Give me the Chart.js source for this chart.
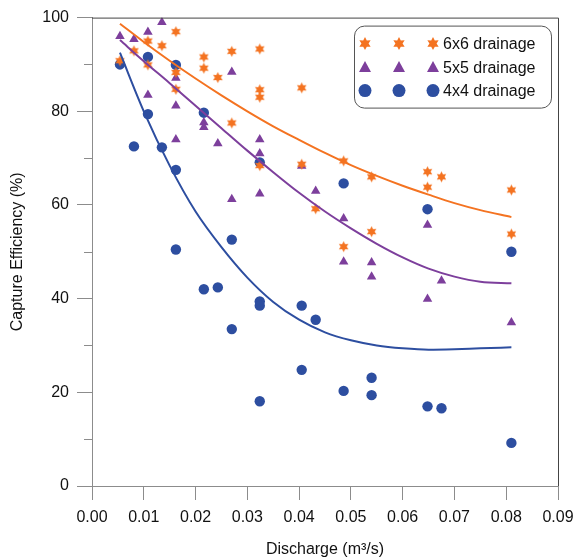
<!DOCTYPE html>
<html>
<head>
<meta charset="utf-8">
<script src="https://cdn.jsdelivr.net/npm/chart.js@4.4.1/dist/chart.umd.min.js"></script>
<style>
  html, body { margin: 0; padding: 0; background: #fff; }
  #wrap { width: 575px; height: 559px; }
</style>
</head>
<body>
<div id="wrap"><canvas id="chart" width="575" height="559"></canvas></div>
<script>
// discharge (m3/s) and capture efficiency (%) per grate layout
const q6 = [0.0054, 0.0081, 0.0108, 0.0108, 0.0135, 0.0162, 0.0162, 0.0162, 0.0216, 0.0216, 0.0243, 0.027, 0.027, 0.0324, 0.0324, 0.0324, 0.0324, 0.0405, 0.0405, 0.0432, 0.0486, 0.0486, 0.054, 0.054, 0.0648, 0.0648, 0.0675, 0.081, 0.081];
const e6 = [90.8, 92.9, 95.0, 89.9, 94.0, 97.0, 88.3, 84.7, 91.6, 89.2, 87.2, 92.8, 77.5, 93.3, 84.6, 83.0, 68.4, 85.0, 68.7, 59.2, 69.4, 51.1, 66.0, 54.3, 67.1, 63.8, 66.0, 63.2, 53.8];

const q5 = [0.0054, 0.0081, 0.0108, 0.0108, 0.0135, 0.0162, 0.0162, 0.0162, 0.0216, 0.0216, 0.0243, 0.027, 0.027, 0.0324, 0.0324, 0.0324, 0.0405, 0.0432, 0.0486, 0.0486, 0.054, 0.054, 0.0648, 0.0648, 0.0675, 0.081];
const e5 = [96.0, 95.4, 96.9, 83.5, 99.0, 87.1, 81.2, 74.0, 77.6, 76.6, 73.1, 88.4, 61.2, 74.0, 71.0, 62.4, 68.3, 63.0, 57.1, 47.9, 47.7, 44.7, 55.7, 39.9, 43.8, 34.9];

const q4 = [0.0054, 0.0081, 0.0108, 0.0108, 0.0135, 0.0162, 0.0162, 0.0162, 0.0216, 0.0216, 0.0243, 0.027, 0.027, 0.0324, 0.0324, 0.0324, 0.0324, 0.0405, 0.0405, 0.0432, 0.0486, 0.0486, 0.054, 0.054, 0.0648, 0.0648, 0.0675, 0.081, 0.081];
const e4 = [90.0, 72.5, 91.6, 79.4, 72.3, 89.9, 67.5, 50.5, 79.7, 42.0, 42.4, 52.6, 33.5, 69.1, 39.4, 38.5, 18.1, 38.5, 24.8, 35.5, 64.6, 20.3, 23.1, 19.4, 59.1, 17.0, 16.6, 50.0, 9.2];

// trend lines
const fitQ = [0.0054, 0.01, 0.015, 0.02, 0.025, 0.03, 0.035, 0.04, 0.045, 0.05, 0.055, 0.06, 0.065, 0.07, 0.075, 0.081];
const fit6 = [98.7, 94.8, 90.8, 87.0, 83.4, 80.0, 76.8, 73.9, 71.1, 68.5, 66.2, 64.1, 62.2, 60.4, 58.9, 57.4];
const fit5 = [95.2, 90.7, 86.0, 81.2, 76.4, 71.6, 67.0, 62.6, 58.6, 55.0, 51.7, 48.8, 46.4, 44.7, 43.6, 43.3];
const fit4 = [92.5, 80.0, 68.4, 58.6, 51.0, 44.5, 39.3, 35.5, 32.8, 31.1, 30.0, 29.4, 29.1, 29.2, 29.4, 29.6];

const seriesNames = ['6x6 drainage', '5x5 drainage', '4x4 drainage'];

const ORANGE = '#f47321';
const PURPLE = '#7d3f9c';
const BLUE = '#2d4ea0';

function pts(xs, ys) {
    return xs.map((x, i) => ({ x: x, y: ys[i] }));
}

// filled six pointed star used as point style
function starPath(ctx, cx, cy, r) {
    ctx.beginPath();
    for (let i = 0; i < 12; i++) {
        const rad = i % 2 === 0 ? r : r * 0.55;
        const a = -Math.PI / 2 + i * Math.PI / 6;
        const px = cx + rad * Math.cos(a);
        const py = cy + rad * Math.sin(a);
        if (i === 0) ctx.moveTo(px, py); else ctx.lineTo(px, py);
    }
    ctx.closePath();
}

function makeStar(color, r) {
    const c = document.createElement('canvas');
    c.width = c.height = Math.ceil(r * 2 + 2);
    const g = c.getContext('2d');
    g.fillStyle = color;
    starPath(g, c.width / 2, c.height / 2, r);
    g.fill();
    return c;
}

const starImg = makeStar(ORANGE, 5.5);

function drawMarker(ctx, kind, x, y) {
    if (kind === 'star') {
        ctx.fillStyle = ORANGE;
        starPath(ctx, x, y, 6.5);
        ctx.fill();
    } else if (kind === 'triangle') {
        ctx.fillStyle = PURPLE;
        ctx.beginPath();
        ctx.moveTo(x, y - 6);
        ctx.lineTo(x + 6, y + 5);
        ctx.lineTo(x - 6, y + 5);
        ctx.closePath();
        ctx.fill();
    } else {
        ctx.fillStyle = BLUE;
        ctx.beginPath();
        ctx.arc(x, y, 6.5, 0, Math.PI * 2);
        ctx.fill();
    }
}

// frame, minor ticks and the three-marker legend
const extras = {
    id: 'extras',
    afterDraw(chart) {
        const ctx = chart.ctx;
        const a = chart.chartArea;
        const yScale = chart.scales.y;
        ctx.save();

        ctx.strokeStyle = '#444';
        ctx.lineWidth = 1;
        ctx.beginPath();
        ctx.moveTo(a.left, a.top + 0.5);
        ctx.lineTo(a.right + 0.5, a.top + 0.5);
        ctx.lineTo(a.right + 0.5, a.bottom);
        ctx.stroke();

        ctx.strokeStyle = '#8c8c8c';
        ctx.beginPath();
        [10, 30, 50, 70, 90].forEach(v => {
            const py = Math.round(yScale.getPixelForValue(v)) + 0.5;
            ctx.moveTo(a.left - 8, py);
            ctx.lineTo(a.left, py);
        });
        ctx.stroke();

        const boxR = a.right - 7, boxT = a.top + 8;
        const boxL = boxR - 197, boxB = boxT + 82;
        ctx.fillStyle = '#fff';
        ctx.strokeStyle = '#555';
        ctx.beginPath();
        ctx.roundRect(boxL + 0.5, boxT + 0.5, boxR - boxL, boxB - boxT, 10);
        ctx.fill();
        ctx.stroke();

        const kinds = ['star', 'triangle', 'circle'];
        ctx.font = '16px "Liberation Sans", Arial, sans-serif';
        ctx.textBaseline = 'middle';
        kinds.forEach((k, i) => {
            const ry = boxT + 18 + i * 23.5;
            [11, 45, 79].forEach(dx => drawMarker(ctx, k, boxL + dx, ry));
            ctx.fillStyle = '#111';
            ctx.fillText(seriesNames[i], boxL + 89, ry + 1);
        });
        ctx.restore();
    }
};

const lineStyle = { type: 'line', showLine: true, pointRadius: 0, borderWidth: 2, fill: false, cubicInterpolationMode: 'monotone' };

new Chart(document.getElementById('chart').getContext('2d'), {
    type: 'scatter',
    data: {
        datasets: [
            Object.assign({ label: 'fit 6x6', data: pts(fitQ, fit6), borderColor: ORANGE }, lineStyle),
            Object.assign({ label: 'fit 5x5', data: pts(fitQ, fit5), borderColor: PURPLE }, lineStyle),
            Object.assign({ label: 'fit 4x4', data: pts(fitQ, fit4), borderColor: BLUE }, lineStyle),
            { label: seriesNames[0], data: pts(q6, e6), pointStyle: starImg, pointRadius: 5 },
            { label: seriesNames[1], data: pts(q5, e5), pointStyle: 'triangle', pointRadius: 5.5, backgroundColor: PURPLE, borderColor: PURPLE, borderWidth: 0 },
            { label: seriesNames[2], data: pts(q4, e4), pointStyle: 'circle', pointRadius: 5.2, backgroundColor: BLUE, borderColor: BLUE, borderWidth: 0 }
        ]
    },
    options: {
        responsive: false,
        animation: false,
        layout: { padding: { top: 17, right: 17, left: 0, bottom: 0 } },
        plugins: { legend: { display: false }, tooltip: { enabled: false } },
        scales: {
            x: {
                type: 'linear',
                min: 0, max: 0.09,
                afterFit: s => { s.height = 73; s.paddingRight = 0; s.paddingLeft = 0; },
                ticks: {
                    stepSize: 0.01,
                    padding: 8,
                    color: '#111',
                    font: { family: '"Liberation Sans", Arial, sans-serif', size: 16 },
                    callback: v => v.toFixed(2)
                },
                grid: { drawOnChartArea: false, drawTicks: true, tickLength: 14, color: '#8c8c8c' },
                border: { display: true, color: '#8c8c8c' },
                title: {
                    display: true,
                    text: 'Discharge (m³/s)',
                    color: '#111',
                    padding: { top: 4, bottom: 0 },
                    font: { family: '"Liberation Sans", Arial, sans-serif', size: 16 }
                }
            },
            y: {
                min: 0, max: 100,
                afterFit: s => { s.width = 92; },
                ticks: {
                    stepSize: 20,
                    padding: 8,
                    color: '#111',
                    font: { family: '"Liberation Sans", Arial, sans-serif', size: 16 }
                },
                grid: { drawOnChartArea: false, drawTicks: true, tickLength: 15, color: '#8c8c8c' },
                border: { display: true, color: '#8c8c8c' },
                title: {
                    display: true,
                    text: 'Capture Efficiency (%)',
                    color: '#111',
                    padding: { top: 8, bottom: 0 },
                    font: { family: '"Liberation Sans", Arial, sans-serif', size: 16 }
                }
            }
        }
    },
    plugins: [extras]
});
</script>
</body>
</html>
